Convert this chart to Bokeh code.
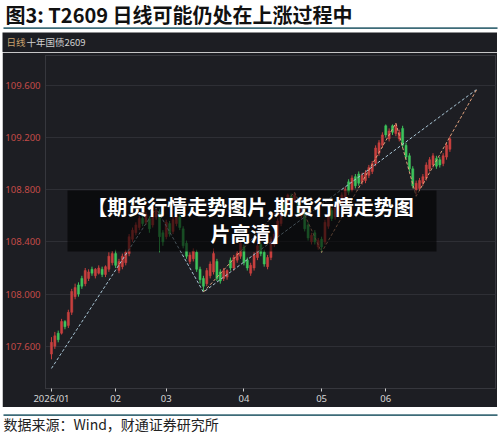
import numpy as np
from bokeh.plotting import figure
from bokeh.models import FixedTicker, Label, BoxAnnotation, Spacer, Range1d, ColumnDataSource
from bokeh.layouts import column, row
from bokeh.embed import file_html
from bokeh.resources import INLINE

# ---------------- data ----------------
open_ = [107.54, 107.60, 107.70, 107.70, 107.79, 107.76, 107.86, 107.98, 108.07, 108.12,
         108.08, 108.12, 108.19, 108.14, 108.16, 108.19, 108.15, 108.19, 108.24, 108.31,
         108.18, 108.21, 108.24, 108.31, 108.42, 108.47, 108.51, 108.58, 108.55, 108.58,
         108.53, 108.59, 108.63, 108.47, 108.44, 108.54, 108.48, 108.54, 108.59, 108.50,
         108.39, 108.25, 108.27, 108.32, 108.19, 108.12, 108.08, 108.14, 108.17, 108.25,
         108.17, 108.12, 108.13, 108.26, 108.20, 108.26, 108.29, 108.36, 108.26, 108.16,
         108.20, 108.28, 108.38, 108.32, 108.21, 108.28, 108.38, 108.45, 108.54, 108.69,
         108.66, 108.75, 108.72, 108.72, 108.60, 108.63, 108.53, 108.40, 108.47, 108.36,
         108.42, 108.40, 108.52, 108.64, 108.59, 108.64, 108.68, 108.73, 108.86, 108.80,
         108.90, 108.92, 108.86, 108.87, 108.91, 108.94, 109.00, 109.08, 109.14, 109.29,
         109.19, 109.29, 109.23, 109.19, 109.27, 109.14, 109.06, 108.96, 108.80, 108.81,
         108.85, 108.89, 108.96, 108.99, 109.04, 109.03, 109.00, 109.05, 109.11]
close = [107.63, 107.68, 107.65, 107.79, 107.75, 107.86, 108.02, 108.05, 108.00, 108.06,
         108.18, 108.17, 108.16, 108.19, 108.20, 108.15, 108.21, 108.29, 108.31, 108.22,
         108.25, 108.29, 108.32, 108.44, 108.49, 108.53, 108.58, 108.54, 108.61, 108.50,
         108.62, 108.64, 108.44, 108.40, 108.55, 108.46, 108.57, 108.60, 108.51, 108.37,
         108.29, 108.30, 108.33, 108.19, 108.11, 108.06, 108.18, 108.23, 108.31, 108.12,
         108.10, 108.18, 108.18, 108.20, 108.28, 108.31, 108.39, 108.24, 108.20, 108.22,
         108.30, 108.37, 108.31, 108.23, 108.28, 108.42, 108.46, 108.56, 108.63, 108.62,
         108.76, 108.69, 108.76, 108.62, 108.65, 108.50, 108.43, 108.45, 108.40, 108.41,
         108.36, 108.55, 108.61, 108.58, 108.66, 108.70, 108.76, 108.80, 108.78, 108.89,
         108.83, 108.85, 108.91, 108.93, 108.97, 109.00, 109.12, 109.16, 109.22, 109.22,
         109.25, 109.24, 109.29, 109.24, 109.14, 109.05, 108.96, 108.83, 108.85, 108.87,
         108.90, 108.99, 109.03, 109.06, 108.98, 108.99, 109.06, 109.14, 109.19]
high = [107.67, 107.71, 107.72, 107.81, 107.80, 107.88, 108.04, 108.08, 108.09, 108.14,
        108.20, 108.19, 108.21, 108.20, 108.22, 108.21, 108.22, 108.32, 108.33, 108.34,
        108.27, 108.31, 108.34, 108.46, 108.51, 108.55, 108.60, 108.61, 108.63, 108.60,
        108.64, 108.66, 108.65, 108.49, 108.57, 108.56, 108.59, 108.62, 108.61, 108.52,
        108.41, 108.32, 108.35, 108.34, 108.21, 108.14, 108.20, 108.25, 108.35, 108.27,
        108.19, 108.20, 108.19, 108.28, 108.30, 108.33, 108.41, 108.38, 108.28, 108.24,
        108.32, 108.39, 108.40, 108.34, 108.30, 108.44, 108.48, 108.58, 108.65, 108.71,
        108.77, 108.77, 108.78, 108.74, 108.67, 108.65, 108.55, 108.47, 108.49, 108.43,
        108.44, 108.57, 108.63, 108.66, 108.68, 108.72, 108.78, 108.82, 108.88, 108.91,
        108.92, 108.94, 108.93, 108.95, 108.99, 109.02, 109.14, 109.18, 109.24, 109.30,
        109.27, 109.30, 109.31, 109.26, 109.29, 109.16, 109.08, 108.98, 108.87, 108.89,
        108.92, 109.01, 109.05, 109.08, 109.06, 109.05, 109.08, 109.16, 109.21]
low = [107.50, 107.58, 107.63, 107.69, 107.73, 107.74, 107.84, 107.96, 107.98, 108.04,
       108.06, 108.10, 108.14, 108.12, 108.15, 108.13, 108.13, 108.17, 108.22, 108.20,
       108.16, 108.19, 108.22, 108.29, 108.40, 108.45, 108.49, 108.52, 108.53, 108.47,
       108.51, 108.57, 108.32, 108.37, 108.42, 108.44, 108.46, 108.52, 108.49, 108.35,
       108.27, 108.23, 108.25, 108.17, 108.08, 108.02, 108.06, 108.12, 108.15, 108.10,
       108.08, 108.10, 108.11, 108.18, 108.18, 108.24, 108.27, 108.22, 108.18, 108.14,
       108.18, 108.26, 108.29, 108.21, 108.19, 108.26, 108.36, 108.43, 108.52, 108.60,
       108.64, 108.67, 108.70, 108.60, 108.58, 108.48, 108.41, 108.38, 108.38, 108.34,
       108.32, 108.38, 108.50, 108.56, 108.57, 108.62, 108.66, 108.71, 108.76, 108.78,
       108.81, 108.83, 108.84, 108.85, 108.89, 108.92, 108.98, 109.06, 109.12, 109.20,
       109.17, 109.22, 109.21, 109.17, 109.12, 109.03, 108.94, 108.81, 108.75, 108.79,
       108.83, 108.87, 108.94, 108.97, 108.96, 108.97, 108.98, 109.03, 109.09]
day_index = list(range(len(close)))

month_tick_pos = [0, 19, 34, 57, 80, 99]
month_tick_labels = ["2026/01", "02", "03", "04", "05", "06"]
price_ticks = [107.6, 108.0, 108.4, 108.8, 109.2, 109.6]
price_tick_labels = ["107.600", "108.000", "108.400", "108.800", "109.200", "109.600"]

blue_trend_x = [0, 31, 45, 126]
blue_trend_y = [107.43, 108.66, 108.015, 109.57]
orange_trend_x = [45, 72, 80, 102, 108, 126]
orange_trend_y = [108.015, 108.78, 108.32, 109.31, 108.75, 109.57]

title_text = "图3: T2609 日线可能仍处在上涨过程中"
source_text = "数据来源：Wind，财通证券研究所"
header_period = "日线"
header_name = "十年国债2609"
banner_line1 = "【期货行情走势图片,期货行情走势图"
banner_line2 = "片高清】"

# ---------------- styles ----------------
BG = "#1d1e23"
UP = "#c8403f"
DOWN = "#3ec45c"
CJK = "Noto Sans CJK SC"
TEAL = "#3d6b78"


def strip(width, height, fill):
    f = figure(width=width, height=height, output_backend="svg", toolbar_location=None,
               x_range=(0, 1), y_range=(0, 1), x_axis_location=None, y_axis_location=None,
               min_border=0)
    f.grid.visible = False
    f.outline_line_color = None
    f.background_fill_color = fill
    f.border_fill_color = fill
    return f


def sbox(**kw):
    return BoxAnnotation(left_units="screen", right_units="screen", top_units="screen",
                         bottom_units="screen", line_color=None, **kw)


o = np.array(open_); c = np.array(close)
src = ColumnDataSource(dict(
    x=day_index, o=o, c=c, h=high, l=low,
    top=np.maximum(o, c), bottom=np.minimum(o, c),
    color=[UP if cc >= oo else DOWN for oo, cc in zip(o, c)],
))

# ---------------- title strip ----------------
top = strip(500, 32, "white")
top.add_layout(Label(x=5, y=18, x_units="screen", y_units="screen", text=title_text,
                     text_font=CJK, text_font_size="20px", text_font_style="bold",
                     text_color="#111111", text_baseline="middle"))
top.add_layout(sbox(left=3, right=497, bottom=3.5, top=5.2, fill_color=TEAL, fill_alpha=1))

# ---------------- header strip (dark) ----------------
head = strip(495, 20, BG)
head.add_layout(Label(x=4, y=10.5, x_units="screen", y_units="screen", text=header_period,
                      text_font=CJK, text_font_size="9.5px", text_color="#c9a36f",
                      text_baseline="middle"))
head.add_layout(Label(x=24, y=10.5, x_units="screen", y_units="screen", text=header_name,
                      text_font=CJK, text_font_size="9.5px", text_color="#d0d0d0",
                      text_baseline="middle"))

# ---------------- main chart ----------------
p = figure(width=495, height=355, output_backend="svg", toolbar_location=None,
           x_range=Range1d(-1.765, 131.5), y_range=Range1d(107.2762, 109.8286),
           min_border_left=40, min_border_right=2, min_border_top=3, min_border_bottom=17)
p.background_fill_color = BG
p.border_fill_color = BG
p.outline_line_color = "#36373d"
p.xgrid.visible = False
p.ygrid.grid_line_color = "#2e2f35"
p.ygrid.ticker = FixedTicker(ticks=price_ticks)

p.yaxis.ticker = FixedTicker(ticks=price_ticks)
p.yaxis.major_label_overrides = dict(zip(price_ticks, price_tick_labels))
p.yaxis.major_label_text_color = "#c44b48"
p.yaxis.major_label_text_font = "Noto Sans"
p.yaxis.major_label_text_font_size = "9.5px"
p.yaxis.major_tick_out = 0
p.yaxis.major_tick_in = 0
p.yaxis.minor_tick_out = 0
p.yaxis.minor_tick_in = 0
p.yaxis.major_label_standoff = 5
p.yaxis.axis_line_color = "#36373d"

p.xaxis.ticker = FixedTicker(ticks=month_tick_pos)
p.xaxis.major_label_overrides = dict(zip(month_tick_pos, month_tick_labels))
p.xaxis.major_label_text_color = "#d6d6d6"
p.xaxis.major_label_text_font = "Noto Sans"
p.xaxis.major_label_text_font_size = "9.5px"
p.xaxis.major_tick_out = 3
p.xaxis.major_tick_in = 0
p.xaxis.minor_tick_out = 0
p.xaxis.minor_tick_in = 0
p.xaxis.major_tick_line_color = "#cfcfcf"
p.xaxis.major_label_standoff = 0
p.xaxis.axis_line_color = "#36373d"

p.segment(x0="x", y0="l", x1="x", y1="h", line_color="color", line_width=1, source=src)
p.vbar(x="x", width=0.62, top="top", bottom="bottom", fill_color="color",
       line_color="color", line_width=0.5, source=src)

p.line(blue_trend_x, blue_trend_y, line_color="#a9c6d6", line_width=1, line_dash="3 2")
p.line(orange_trend_x, orange_trend_y, line_color="#dfa17c", line_width=1, line_dash="3 2")

# watermark banner (frame-relative screen units)
p.add_layout(sbox(left=22, right=391, bottom=137, top=198, fill_color="black", fill_alpha=0.6))
p.add_layout(Label(x=205, y=182, x_units="screen", y_units="screen", text=banner_line1,
                   text_font=CJK, text_font_size="20px", text_font_style="bold",
                   text_color="white", text_align="center", text_baseline="middle"))
p.add_layout(Label(x=205, y=155, x_units="screen", y_units="screen", text=banner_line2,
                   text_font=CJK, text_font_size="20px", text_font_style="bold",
                   text_color="white", text_align="center", text_baseline="middle"))

# ---------------- source strip ----------------
bot = strip(500, 38, "white")
bot.add_layout(sbox(left=3, right=497, bottom=29.5, top=31.2, fill_color=TEAL, fill_alpha=1))
bot.add_layout(Label(x=3, y=21.5, x_units="screen", y_units="screen", text=source_text,
                     text_font=CJK, text_font_size="14px", text_color="#222222",
                     text_baseline="middle"))

panel = column(row(Spacer(width=2, height=20), head, Spacer(width=3, height=20)),
               row(Spacer(width=2, height=355), p, Spacer(width=3, height=355)))
layout = column(top, panel, bot)

open("out.html", "w").write(file_html(layout, INLINE))
